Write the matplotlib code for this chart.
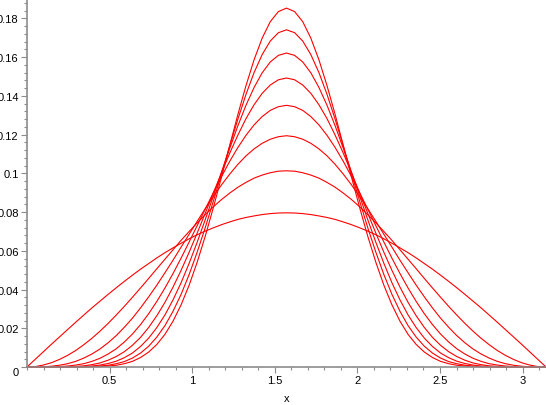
import numpy as np
import matplotlib.pyplot as plt
from matplotlib.ticker import MultipleLocator, FixedLocator

# puntos de muestreo en x (65 puntos entre 0 y pi)
x = np.linspace(0, np.pi, 65)

# valores, una curva por lista
y1 = [0, 0.0039, 0.0078, 0.0117, 0.0155, 0.0193, 0.0231, 0.0268, 0.0305, 0.0340, 0.0375, 0.0409, 0.0442, 0.0474, 0.0505, 0.0534,
      0.0563, 0.0590, 0.0615, 0.0639, 0.0662, 0.0683, 0.0702, 0.0719, 0.0735, 0.0749, 0.0762, 0.0772, 0.0780, 0.0787, 0.0792, 0.0795,
      0.0796,
      0.0795, 0.0792, 0.0787, 0.0780, 0.0772, 0.0762, 0.0749, 0.0735, 0.0719, 0.0702, 0.0683, 0.0662, 0.0639, 0.0615, 0.0590, 0.0563,
      0.0534, 0.0505, 0.0474, 0.0442, 0.0409, 0.0375, 0.0340, 0.0305, 0.0268, 0.0231, 0.0193, 0.0155, 0.0117, 0.0078, 0.0039, 0]
y2 = [0, 0.0002, 0.0010, 0.0022, 0.0039, 0.0060, 0.0085, 0.0115, 0.0148, 0.0185, 0.0225, 0.0268, 0.0313, 0.0360, 0.0408, 0.0457,
      0.0507, 0.0556, 0.0605, 0.0654, 0.0700, 0.0745, 0.0788, 0.0828, 0.0865, 0.0898, 0.0928, 0.0953, 0.0975, 0.0991, 0.1003, 0.1011,
      0.1013,
      0.1011, 0.1003, 0.0991, 0.0975, 0.0953, 0.0928, 0.0898, 0.0865, 0.0828, 0.0788, 0.0745, 0.0700, 0.0654, 0.0605, 0.0556, 0.0507,
      0.0457, 0.0408, 0.0360, 0.0313, 0.0268, 0.0225, 0.0185, 0.0148, 0.0115, 0.0085, 0.0060, 0.0039, 0.0022, 0.0010, 0.0002, 0]
y3 = [0, 0.0, 0.0001, 0.0004, 0.0009, 0.0017, 0.0029, 0.0046, 0.0067, 0.0093, 0.0125, 0.0162, 0.0205, 0.0252, 0.0305, 0.0362,
      0.0422, 0.0486, 0.0551, 0.0619, 0.0686, 0.0753, 0.0819, 0.0882, 0.0941, 0.0996, 0.1046, 0.1090, 0.1126, 0.1155, 0.1176, 0.1189,
      0.1194,
      0.1189, 0.1176, 0.1155, 0.1126, 0.1090, 0.1046, 0.0996, 0.0941, 0.0882, 0.0819, 0.0753, 0.0686, 0.0619, 0.0551, 0.0486, 0.0422,
      0.0362, 0.0305, 0.0252, 0.0205, 0.0162, 0.0125, 0.0093, 0.0067, 0.0046, 0.0029, 0.0017, 0.0009, 0.0004, 0.0001, 0.0, 0]
y4 = [0, 0.0, 0.0, 0.0001, 0.0002, 0.0005, 0.0010, 0.0017, 0.0029, 0.0045, 0.0067, 0.0094, 0.0129, 0.0170, 0.0219, 0.0275,
      0.0338, 0.0407, 0.0482, 0.0562, 0.0646, 0.0731, 0.0817, 0.0902, 0.0984, 0.1062, 0.1133, 0.1196, 0.1250, 0.1293, 0.1325, 0.1344,
      0.1351,
      0.1344, 0.1325, 0.1293, 0.1250, 0.1196, 0.1133, 0.1062, 0.0984, 0.0902, 0.0817, 0.0731, 0.0646, 0.0562, 0.0482, 0.0407, 0.0338,
      0.0275, 0.0219, 0.0170, 0.0129, 0.0094, 0.0067, 0.0045, 0.0029, 0.0017, 0.0010, 0.0005, 0.0002, 0.0001, 0.0, 0.0, 0]
y5 = [0, 0.0, 0.0, 0.0, 0.0, 0.0001, 0.0003, 0.0006, 0.0012, 0.0021, 0.0035, 0.0054, 0.0079, 0.0112, 0.0153, 0.0204,
      0.0264, 0.0333, 0.0412, 0.0499, 0.0593, 0.0693, 0.0796, 0.0901, 0.1004, 0.1104, 0.1197, 0.1282, 0.1354, 0.1413, 0.1456, 0.1483,
      0.1492,
      0.1483, 0.1456, 0.1413, 0.1354, 0.1282, 0.1197, 0.1104, 0.1004, 0.0901, 0.0796, 0.0693, 0.0593, 0.0499, 0.0412, 0.0333, 0.0264,
      0.0204, 0.0153, 0.0112, 0.0079, 0.0054, 0.0035, 0.0021, 0.0012, 0.0006, 0.0003, 0.0001, 0.0, 0.0, 0.0, 0.0, 0]
y6 = [0, 0.0, 0.0, 0.0, 0.0, 0.0, 0.0001, 0.0002, 0.0005, 0.0010, 0.0018, 0.0030, 0.0048, 0.0072, 0.0106, 0.0149,
      0.0203, 0.0268, 0.0346, 0.0435, 0.0536, 0.0646, 0.0763, 0.0885, 0.1008, 0.1129, 0.1245, 0.1351, 0.1443, 0.1519, 0.1575, 0.1609,
      0.1621,
      0.1609, 0.1575, 0.1519, 0.1443, 0.1351, 0.1245, 0.1129, 0.1008, 0.0885, 0.0763, 0.0646, 0.0536, 0.0435, 0.0346, 0.0268, 0.0203,
      0.0149, 0.0106, 0.0072, 0.0048, 0.0030, 0.0018, 0.0010, 0.0005, 0.0002, 0.0001, 0.0, 0.0, 0.0, 0.0, 0.0, 0]
y7 = [0, 0.0, 0.0, 0.0, 0.0, 0.0, 0.0, 0.0001, 0.0002, 0.0005, 0.0009, 0.0017, 0.0028, 0.0046, 0.0072, 0.0107,
      0.0154, 0.0213, 0.0287, 0.0375, 0.0478, 0.0595, 0.0722, 0.0859, 0.1000, 0.1142, 0.1279, 0.1407, 0.1520, 0.1613, 0.1683, 0.1726,
      0.1741,
      0.1726, 0.1683, 0.1613, 0.1520, 0.1407, 0.1279, 0.1142, 0.1000, 0.0859, 0.0722, 0.0595, 0.0478, 0.0375, 0.0287, 0.0213, 0.0154,
      0.0107, 0.0072, 0.0046, 0.0028, 0.0017, 0.0009, 0.0005, 0.0002, 0.0001, 0.0, 0.0, 0.0, 0.0, 0.0, 0.0, 0]
y8 = [0, 0.0, 0.0, 0.0, 0.0, 0.0, 0.0, 0.0, 0.0001, 0.0002, 0.0005, 0.0009, 0.0017, 0.0029, 0.0049, 0.0077,
      0.0116, 0.0168, 0.0236, 0.0321, 0.0423, 0.0543, 0.0678, 0.0826, 0.0983, 0.1144, 0.1303, 0.1452, 0.1586, 0.1698, 0.1783, 0.1835,
      0.1853,
      0.1835, 0.1783, 0.1698, 0.1586, 0.1452, 0.1303, 0.1144, 0.0983, 0.0826, 0.0678, 0.0543, 0.0423, 0.0321, 0.0236, 0.0168, 0.0116,
      0.0077, 0.0049, 0.0029, 0.0017, 0.0009, 0.0005, 0.0002, 0.0001, 0.0, 0.0, 0.0, 0.0, 0.0, 0.0, 0.0, 0]
curvas = [y1, y2, y3, y4, y5, y6, y7, y8]

x_ticks = [0.5, 1, 1.5, 2, 2.5, 3]
x_labels = ["0.5", "1", "1.5", "2", "2.5", "3"]
y_ticks = [0, 0.02, 0.04, 0.06, 0.08, 0.1, 0.12, 0.14, 0.16, 0.18]
y_labels = ["0", "0.02", "0.04", "0.06", "0.08", "0.1", "0.12", "0.14", "0.16", "0.18"]

plt.rcParams['font.family'] = ['Liberation Sans', 'DejaVu Sans']

fig = plt.figure(figsize=(5.46, 4.06), dpi=100)
ax = fig.add_axes([27 / 546, 38 / 406, 1 - 27 / 546, 1 - 38 / 406])

for y in curvas:
    ax.plot(x, y, color="#ff0000", linewidth=0.8, clip_on=False)

ax.set_xlim(0, np.pi)
ax.set_ylim(0, 0.19)

for lado in ["top", "right"]:
    ax.spines[lado].set_visible(False)
for lado in ["left", "bottom"]:
    ax.spines[lado].set_color("#8c8c8c")
    ax.spines[lado].set_linewidth(1.2)

ax.xaxis.set_major_locator(FixedLocator(x_ticks))
ax.set_xticklabels(x_labels)
ax.yaxis.set_major_locator(FixedLocator(y_ticks))
ax.set_yticklabels(y_labels)
ax.xaxis.set_minor_locator(MultipleLocator(0.1))
ax.yaxis.set_minor_locator(MultipleLocator(0.004))
ax.tick_params(which="major", direction="out", length=4, width=0.8, color="#8c8c8c", labelsize=8, pad=2)
ax.tick_params(which="minor", direction="out", length=2, width=0.8, color="#8c8c8c")
ax.tick_params(axis="x", which="major", pad=1.5)

# el "0" del eje y queda un poco por debajo del origen
ax.get_yticklabels()[0].set_verticalalignment("top")

ax.set_xlabel("x", fontsize=8, labelpad=6)

fig.savefig("out.png", dpi=100)
